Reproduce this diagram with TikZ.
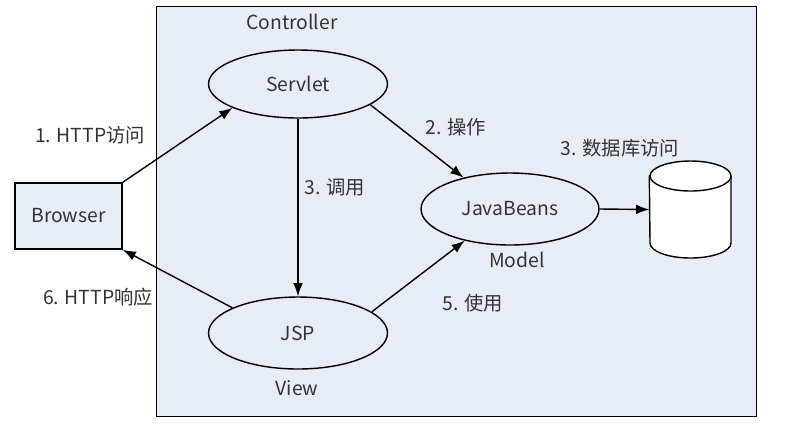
\documentclass[tikz,border=0pt]{standalone}
\usepackage{fontspec}
\setmainfont{Noto Sans CJK SC}
\usetikzlibrary{arrows.meta,positioning,shapes}

\begin{document}
\begin{tikzpicture}[x=0.02cm,y=-0.02cm,auto,every text node part/.style={align=center},
    font=\fontsize{11}{13}\selectfont, text=black!80,
    >={Latex[length=7.5pt,width=5.5pt]}, line width=0.8pt]

\definecolor{boxcolor}{RGB}{232,236,246}

    \useasboundingbox (0,0) rectangle (790,424);

    %% MVC frame
    \node[draw, fill=boxcolor, minimum width=12cm, minimum height=8.2cm, anchor=north west] (frame) at (156,6) {};
    \node (controller) at (292,22) {Controller};

    % client
    \node[draw, fill=boxcolor, minimum width=2.14cm, minimum height=1.32cm] (browser) at (68.5,216) {Browser};

    % components
    \node[draw, ellipse, minimum width=3.58cm, minimum height=1.36cm] (servlet) at (298,84) {Servlet};
    \node[draw, ellipse, minimum width=3.56cm, minimum height=1.44cm] (beans) at (510,209) {JavaBeans};
    \node[draw, ellipse, minimum width=3.58cm, minimum height=1.44cm] (jsp) at (298,333) {JSP};
    \node (model) at (517,260) {Model};
    \node (view) at (297,388) {View};

    % database
    \node[minimum width=1.62cm, minimum height=1.94cm, inner sep=0pt] (db) at (690.5,209.5) {};
    \draw[fill=white] (db.north west) ++(0,15) -- (650,243) arc[start angle=180, end angle=0, x radius=40.5, y radius=15] -- (731,176);
    \draw[fill=white] (690.5,176) ellipse [x radius=40.5, y radius=15];

    % requests
    \draw[->] (browser.north east) -- (servlet.200);
    \node (req) at (90,135) {1. HTTP访问};
    \draw[->] (servlet.-16) -- (beans.146);
    \node (op) at (456,127) {2. 操作};
    \draw[->] (servlet.south) -- (jsp.north);
    \node (call) at (335,187) {3. 调用};
    \draw[->] (beans.east) -- (db.west);
    \node (dbaccess) at (620,148) {3. 数据库访问};
    \draw[->] (jsp.16) -- (beans.215);
    \node (use) at (473,303) {5. 使用};
    \draw[->] (jsp.159) -- (browser.south east);
    \node (resp) at (98,297) {6. HTTP响应};
  \end{tikzpicture}
\end{document}
